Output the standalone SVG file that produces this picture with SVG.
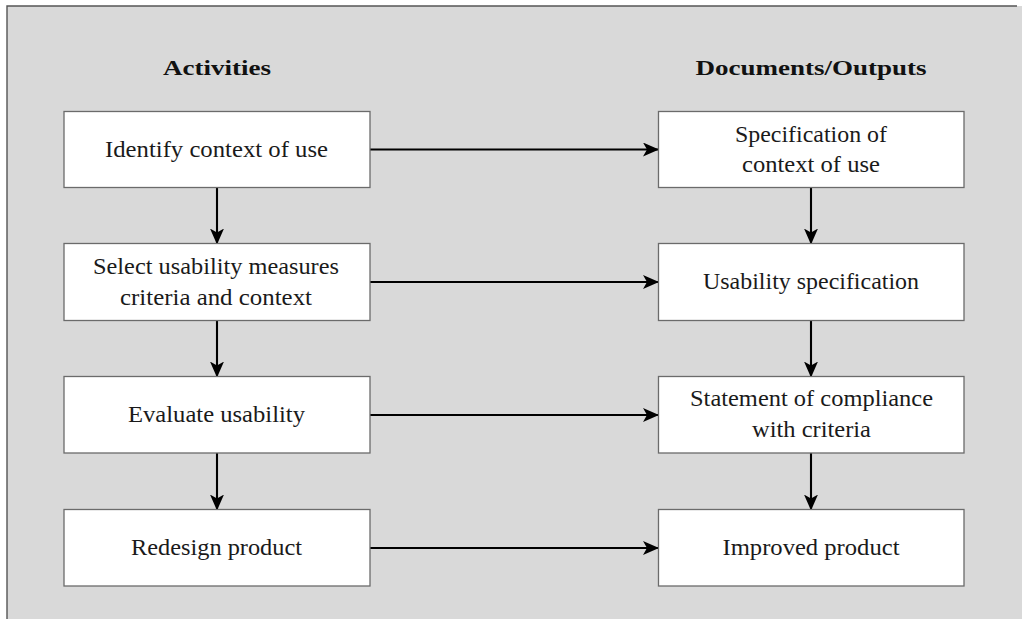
<svg xmlns="http://www.w3.org/2000/svg" width="1022" height="619" viewBox="0 0 1022 619">
  <style>
    .box { fill: #ffffff; stroke: #6b6b6b; stroke-width: 1.3; }
    .label { font-family: "Liberation Serif", "DejaVu Serif", serif; font-size: 23px; fill: #1a1a1a; text-anchor: middle; }
    .head { font-family: "Liberation Serif", "DejaVu Serif", serif; font-size: 22px; font-weight: bold; fill: #111111; text-anchor: middle; }
    .conn { stroke: #000000; stroke-width: 2.1; fill: none; marker-end: url(#arrow); }
  </style>
  <defs>
    <marker id="arrow" viewBox="0 0 16 14" refX="15" refY="7" markerWidth="16" markerHeight="14" markerUnits="userSpaceOnUse" orient="auto">
      <path d="M0,0 L16,7 L0,14 L4,7 Z" fill="#000000"/>
    </marker>
  </defs>

  <!-- background panel: top and left edges drawn, right/bottom run off the canvas -->
  <rect x="0" y="0" width="1022" height="619" fill="#ffffff"/>
  <rect x="7" y="6" width="1040" height="640" fill="#d9d9d9"/>
  <path d="M7,640 L7,6 L1017,6" stroke="#555555" stroke-width="1.4" fill="none"/>

  <text class="head" x="217" y="75" textLength="108" lengthAdjust="spacingAndGlyphs">Activities</text>
  <text class="head" x="811" y="75" textLength="231" lengthAdjust="spacingAndGlyphs">Documents/Outputs</text>

  <g id="connectors">
    <line class="conn" x1="370" y1="149.5" x2="658" y2="149.5"/>
    <line class="conn" x1="370" y1="282" x2="658" y2="282"/>
    <line class="conn" x1="370" y1="415" x2="658" y2="415"/>
    <line class="conn" x1="370" y1="548" x2="658" y2="548"/>
    <line class="conn" x1="217" y1="187.5" x2="217" y2="243.5"/>
    <line class="conn" x1="217" y1="320.5" x2="217" y2="376.5"/>
    <line class="conn" x1="217" y1="453" x2="217" y2="509.5"/>
    <line class="conn" x1="811" y1="187.5" x2="811" y2="243.5"/>
    <line class="conn" x1="811" y1="320.5" x2="811" y2="376.5"/>
    <line class="conn" x1="811" y1="453" x2="811" y2="509.5"/>
  </g>

  <g id="identify-context">
    <rect class="box" x="64" y="111.5" width="306" height="76"/>
    <text class="label" x="216.5" y="157" textLength="223" lengthAdjust="spacingAndGlyphs">Identify context of use</text>
  </g>
  <g id="select-measures">
    <rect class="box" x="64" y="243.5" width="306" height="77"/>
    <text class="label" x="216" y="273.5" textLength="246" lengthAdjust="spacingAndGlyphs">Select usability measures</text>
    <text class="label" x="216" y="304.5" textLength="192" lengthAdjust="spacingAndGlyphs">criteria and context</text>
  </g>
  <g id="evaluate">
    <rect class="box" x="64" y="376.5" width="306" height="76.5"/>
    <text class="label" x="216.5" y="422" textLength="177" lengthAdjust="spacingAndGlyphs">Evaluate usability</text>
  </g>
  <g id="redesign">
    <rect class="box" x="64" y="509.5" width="306" height="76.5"/>
    <text class="label" x="216.5" y="555" textLength="171" lengthAdjust="spacingAndGlyphs">Redesign product</text>
  </g>

  <g id="context-spec">
    <rect class="box" x="658.5" y="111.5" width="305.5" height="76"/>
    <text class="label" x="811" y="141.5" textLength="152" lengthAdjust="spacingAndGlyphs">Specification of</text>
    <text class="label" x="811" y="171.5" textLength="138" lengthAdjust="spacingAndGlyphs">context of use</text>
  </g>
  <g id="usability-spec">
    <rect class="box" x="658.5" y="243.5" width="305.5" height="77"/>
    <text class="label" x="811" y="289" textLength="216" lengthAdjust="spacingAndGlyphs">Usability specification</text>
  </g>
  <g id="compliance">
    <rect class="box" x="658.5" y="376.5" width="305.5" height="76.5"/>
    <text class="label" x="811.5" y="406" textLength="243" lengthAdjust="spacingAndGlyphs">Statement of compliance</text>
    <text class="label" x="811.5" y="437" textLength="119" lengthAdjust="spacingAndGlyphs">with criteria</text>
  </g>
  <g id="improved">
    <rect class="box" x="658.5" y="509.5" width="305.5" height="76.5"/>
    <text class="label" x="811" y="554.5" textLength="177" lengthAdjust="spacingAndGlyphs">Improved product</text>
  </g>
</svg>
